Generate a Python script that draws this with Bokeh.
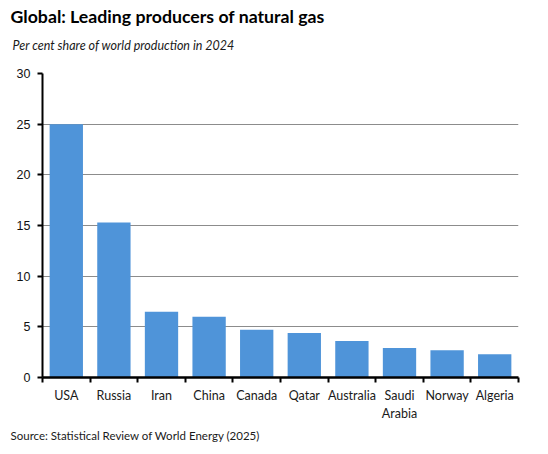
from bokeh.plotting import figure
from bokeh.models import ColumnDataSource, FixedTicker, Range1d, Title
from bokeh.embed import file_html
from bokeh.resources import INLINE

countries = ["USA", "Russia", "Iran", "China", "Canada", "Qatar", "Australia",
             "Saudi\nArabia", "Norway", "Algeria"]
shares = [25.0, 15.3, 6.5, 6.0, 4.7, 4.4, 3.6, 2.9, 2.7, 2.3]
y_ticks = [0, 5, 10, 15, 20, 25, 30]

title_text = "Global: Leading producers of natural gas"
subtitle_text = "Per cent share of world production in 2024"
source_text = "Source: Statistical Review of World Energy (2025)"

positions = [i + 1 for i in range(len(countries))]
src = ColumnDataSource(dict(x=positions, top=shares, name=countries))

p = figure(width=540, height=446, output_backend="svg", toolbar_location=None,
           x_range=Range1d(0.5, len(countries) + 0.5), y_range=Range1d(0, 30),
           min_border_left=42, min_border_right=22, min_border_top=73,
           min_border_bottom=69, title=None)
p.outline_line_color = None
p.background_fill_color = "white"
p.border_fill_color = "white"

p.vbar(x="x", top="top", width=0.7, source=src, fill_color="#4F94D9",
       line_color=None)

# y axis
p.yaxis.ticker = FixedTicker(ticks=y_ticks)
p.yaxis.axis_line_color = "black"
p.yaxis.axis_line_width = 2
p.yaxis.major_tick_line_color = "black"
p.yaxis.major_tick_line_width = 2
p.yaxis.major_tick_out = 5
p.yaxis.major_tick_in = 0
p.yaxis.minor_tick_line_color = None
p.yaxis.major_label_text_font = "Liberation Sans"
p.yaxis.major_label_text_font_size = "12.5px"
p.yaxis.major_label_text_color = "#111111"
p.yaxis.major_label_standoff = 7

# x axis
p.xaxis.ticker = FixedTicker(ticks=positions,
                             minor_ticks=[i + 0.5 for i in range(len(countries) + 1)])
p.xaxis.major_label_overrides = {pos: name for pos, name in zip(positions, countries)}
p.xaxis.axis_line_color = "black"
p.xaxis.axis_line_width = 2.5
p.xaxis.major_tick_line_color = None
p.xaxis.minor_tick_line_color = "black"
p.xaxis.minor_tick_line_width = 2
p.xaxis.minor_tick_out = 5
p.xaxis.minor_tick_in = 0
p.xaxis.major_label_text_font = "Lato"
p.xaxis.major_label_text_font_size = "12.5px"
p.xaxis.major_label_text_color = "#1a1a1a"
p.xaxis.major_label_standoff = 4

p.xgrid.grid_line_color = None
p.ygrid.grid_line_color = "#8c8c8c"
p.ygrid.grid_line_width = 1
p.ygrid.ticker = FixedTicker(ticks=y_ticks)

p.add_layout(Title(text=subtitle_text, align="left", offset=-30,
                   text_font="Lato", text_font_style="italic",
                   text_font_size="12.5px", text_color="#1a1a1a",
                   standoff=41), "above")
p.add_layout(Title(text=title_text, align="left", offset=-32,
                   text_font="Lato", text_font_style="bold",
                   text_font_size="17.7px", text_color="black",
                   standoff=-22), "above")
p.add_layout(Title(text=source_text, align="left", offset=-32,
                   text_font="Lato", text_font_style="normal",
                   text_font_size="11.5px", text_color="#1a1a1a",
                   standoff=6), "below")

open("out.html", "w").write(file_html(p, INLINE))
